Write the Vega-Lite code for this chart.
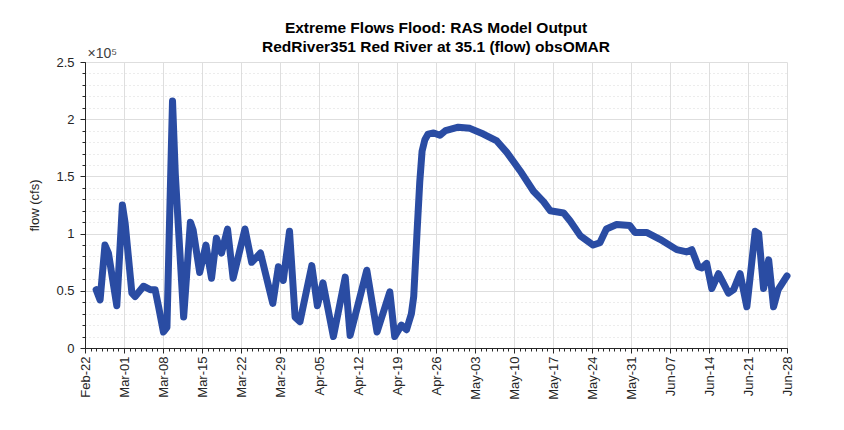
{
  "$schema": "https://vega.github.io/schema/vega-lite/v6.json",
  "width": 702,
  "height": 286,
  "autosize": "none",
  "padding": {"left": 85, "top": 62, "right": 57, "bottom": 82},
  "background": "white",
  "config": {
    "view": {"stroke": null},
    "font": "Liberation Sans"
  },
  "title": {
    "text": ["Extreme Flows Flood: RAS Model Output", "RedRiver351 Red River at 35.1 (flow) obsOMAR"],
    "frame": "group",
    "anchor": "middle",
    "fontSize": 15.5,
    "fontWeight": "bold",
    "color": "#000000",
    "lineHeight": 19,
    "offset": -9
  },
  "data": {
    "values": [
      {"t": "2015-02-24T00:00:00Z", "flow": 51000},
      {"t": "2015-02-24T17:00:00Z", "flow": 42000},
      {"t": "2015-02-25T14:00:00Z", "flow": 90000},
      {"t": "2015-02-26T05:00:00Z", "flow": 83000},
      {"t": "2015-02-27T17:00:00Z", "flow": 37000},
      {"t": "2015-02-28T17:00:00Z", "flow": 125000},
      {"t": "2015-03-01T05:00:00Z", "flow": 109000},
      {"t": "2015-03-02T10:00:00Z", "flow": 48000},
      {"t": "2015-03-03T00:00:00Z", "flow": 45000},
      {"t": "2015-03-04T12:00:00Z", "flow": 54000},
      {"t": "2015-03-05T17:00:00Z", "flow": 51000},
      {"t": "2015-03-06T14:00:00Z", "flow": 51000},
      {"t": "2015-03-07T05:00:00Z", "flow": 36000},
      {"t": "2015-03-08T02:00:00Z", "flow": 14000},
      {"t": "2015-03-08T17:00:00Z", "flow": 18000},
      {"t": "2015-03-09T17:00:00Z", "flow": 216000},
      {"t": "2015-03-10T05:00:00Z", "flow": 152000},
      {"t": "2015-03-11T17:00:00Z", "flow": 27000},
      {"t": "2015-03-12T22:00:00Z", "flow": 110000},
      {"t": "2015-03-13T10:00:00Z", "flow": 103000},
      {"t": "2015-03-14T14:00:00Z", "flow": 66000},
      {"t": "2015-03-15T17:00:00Z", "flow": 90000},
      {"t": "2015-03-16T17:00:00Z", "flow": 61000},
      {"t": "2015-03-17T14:00:00Z", "flow": 96000},
      {"t": "2015-03-18T12:00:00Z", "flow": 83000},
      {"t": "2015-03-19T14:00:00Z", "flow": 104000},
      {"t": "2015-03-20T14:00:00Z", "flow": 61000},
      {"t": "2015-03-22T17:00:00Z", "flow": 104000},
      {"t": "2015-03-23T22:00:00Z", "flow": 75000},
      {"t": "2015-03-25T12:00:00Z", "flow": 83000},
      {"t": "2015-03-27T17:00:00Z", "flow": 39000},
      {"t": "2015-03-28T17:00:00Z", "flow": 71000},
      {"t": "2015-03-29T14:00:00Z", "flow": 59000},
      {"t": "2015-03-30T17:00:00Z", "flow": 102000},
      {"t": "2015-03-31T17:00:00Z", "flow": 27000},
      {"t": "2015-04-01T14:00:00Z", "flow": 23000},
      {"t": "2015-04-03T17:00:00Z", "flow": 72000},
      {"t": "2015-04-04T17:00:00Z", "flow": 37000},
      {"t": "2015-04-05T17:00:00Z", "flow": 57000},
      {"t": "2015-04-07T14:00:00Z", "flow": 10000},
      {"t": "2015-04-09T17:00:00Z", "flow": 62000},
      {"t": "2015-04-10T14:00:00Z", "flow": 11000},
      {"t": "2015-04-13T14:00:00Z", "flow": 68000},
      {"t": "2015-04-15T10:00:00Z", "flow": 14000},
      {"t": "2015-04-17T17:00:00Z", "flow": 49000},
      {"t": "2015-04-18T14:00:00Z", "flow": 10000},
      {"t": "2015-04-19T19:00:00Z", "flow": 20000},
      {"t": "2015-04-20T17:00:00Z", "flow": 16000},
      {"t": "2015-04-21T14:00:00Z", "flow": 30000},
      {"t": "2015-04-22T00:00:00Z", "flow": 45000},
      {"t": "2015-04-22T14:00:00Z", "flow": 100000},
      {"t": "2015-04-23T02:00:00Z", "flow": 145000},
      {"t": "2015-04-23T12:00:00Z", "flow": 172000},
      {"t": "2015-04-24T00:00:00Z", "flow": 182000},
      {"t": "2015-04-24T14:00:00Z", "flow": 187000},
      {"t": "2015-04-25T14:00:00Z", "flow": 188000},
      {"t": "2015-04-26T17:00:00Z", "flow": 186000},
      {"t": "2015-04-27T17:00:00Z", "flow": 190000},
      {"t": "2015-04-30T00:00:00Z", "flow": 193000},
      {"t": "2015-05-02T02:00:00Z", "flow": 192000},
      {"t": "2015-05-04T12:00:00Z", "flow": 187000},
      {"t": "2015-05-06T22:00:00Z", "flow": 181000},
      {"t": "2015-05-08T17:00:00Z", "flow": 171000},
      {"t": "2015-05-11T02:00:00Z", "flow": 155000},
      {"t": "2015-05-13T12:00:00Z", "flow": 137000},
      {"t": "2015-05-15T07:00:00Z", "flow": 128000},
      {"t": "2015-05-16T12:00:00Z", "flow": 120000},
      {"t": "2015-05-18T22:00:00Z", "flow": 118000},
      {"t": "2015-05-20T02:00:00Z", "flow": 111000},
      {"t": "2015-05-21T22:00:00Z", "flow": 98000},
      {"t": "2015-05-24T05:00:00Z", "flow": 90000},
      {"t": "2015-05-25T10:00:00Z", "flow": 92000},
      {"t": "2015-05-26T14:00:00Z", "flow": 104000},
      {"t": "2015-05-28T10:00:00Z", "flow": 108000},
      {"t": "2015-05-30T19:00:00Z", "flow": 107000},
      {"t": "2015-05-31T17:00:00Z", "flow": 101000},
      {"t": "2015-06-02T19:00:00Z", "flow": 101000},
      {"t": "2015-06-05T05:00:00Z", "flow": 95000},
      {"t": "2015-06-08T05:00:00Z", "flow": 86000},
      {"t": "2015-06-10T00:00:00Z", "flow": 84000},
      {"t": "2015-06-10T22:00:00Z", "flow": 86000},
      {"t": "2015-06-12T02:00:00Z", "flow": 71000},
      {"t": "2015-06-12T17:00:00Z", "flow": 70000},
      {"t": "2015-06-13T14:00:00Z", "flow": 74000},
      {"t": "2015-06-14T12:00:00Z", "flow": 52000},
      {"t": "2015-06-15T17:00:00Z", "flow": 65000},
      {"t": "2015-06-17T12:00:00Z", "flow": 48000},
      {"t": "2015-06-18T10:00:00Z", "flow": 51000},
      {"t": "2015-06-19T14:00:00Z", "flow": 65000},
      {"t": "2015-06-20T19:00:00Z", "flow": 36000},
      {"t": "2015-06-22T07:00:00Z", "flow": 102000},
      {"t": "2015-06-22T22:00:00Z", "flow": 100000},
      {"t": "2015-06-23T19:00:00Z", "flow": 52000},
      {"t": "2015-06-24T17:00:00Z", "flow": 77000},
      {"t": "2015-06-25T14:00:00Z", "flow": 36000},
      {"t": "2015-06-26T10:00:00Z", "flow": 51000},
      {"t": "2015-06-28T00:00:00Z", "flow": 63000}
    ]
  },
  "layer": [
    {
      "mark": {"type": "line", "opacity": 0},
      "encoding": {
        "x": {
          "field": "t", "type": "temporal",
          "scale": {"type": "utc", "nice": false, "domain": [{"year": 2015, "month": 2, "date": 22, "utc": true}, {"year": 2015, "month": 6, "date": 28, "utc": true}]},
          "axis": {"orient": "bottom", "tickCount": {"interval": "day", "step": 1}, "labels": false, "domain": false, "grid": false, "ticks": true, "tickSize": 3, "tickColor": "#262626", "tickWidth": 1, "title": null}
        },
        "y": {
          "field": "flow", "type": "quantitative",
          "scale": {"domain": [0, 250000], "nice": false},
          "axis": {
            "orient": "left",
            "values": [0,10000,20000,30000,40000,50000,60000,70000,80000,90000,100000,110000,120000,130000,140000,150000,160000,170000,180000,190000,200000,210000,220000,230000,240000,250000],
            "labels": false, "domain": false, "grid": true, "gridColor": "#d9d9d9", "gridDash": [1, 3], "gridWidth": 1,
            "ticks": true, "tickSize": 3, "tickColor": "#262626",
            "title": "×10⁵", "titleAngle": 0, "titleX": 2, "titleY": -5, "titleAlign": "left", "titleBaseline": "alphabetic",
            "titleFontWeight": "normal", "titleFontSize": 14, "titleColor": "#404040", "titlePadding": 0
          }
        }
      }
    },
    {
      "mark": {"type": "line", "color": "#2a4ca3", "strokeWidth": 7, "strokeJoin": "round", "strokeCap": "round"},
      "encoding": {
        "x": {
          "field": "t", "type": "temporal",
          "scale": {"type": "utc", "nice": false, "domain": [{"year": 2015, "month": 2, "date": 22, "utc": true}, {"year": 2015, "month": 6, "date": 28, "utc": true}]},
          "axis": {
            "orient": "bottom",
            "tickCount": {"interval": "week", "step": 1}, "format": "%b-%d", "labelAngle": -90, "labelAlign": "right", "labelBaseline": "middle",
            "labelFontSize": 13, "labelColor": "#262626", "labelPadding": 3, "labelOverlap": false, "labelFlush": false,
            "domain": true, "domainColor": "#262626", "domainWidth": 1,
            "ticks": true, "tickSize": 5, "tickColor": "#262626",
            "grid": true, "gridColor": "#dedede", "gridWidth": 1, "title": null
          }
        },
        "y": {
          "field": "flow", "type": "quantitative",
          "scale": {"domain": [0, 250000], "nice": false},
          "axis": {
            "orient": "left",
            "values": [0, 50000, 100000, 150000, 200000, 250000],
            "labelExpr": "'' + datum.value / 100000",
            "labelFontSize": 13, "labelColor": "#262626", "labelPadding": 6,
            "domain": true, "domainColor": "#262626", "domainWidth": 1,
            "ticks": true, "tickSize": 5, "tickColor": "#262626",
            "grid": true, "gridColor": "#dedede", "gridWidth": 1,
            "title": "flow (cfs)", "titleFontSize": 13, "titleFontWeight": "normal", "titleColor": "#262626", "titlePadding": 14
          }
        }
      }
    }
  ],
  "resolve": {"axis": {"x": "independent", "y": "independent"}}
}
